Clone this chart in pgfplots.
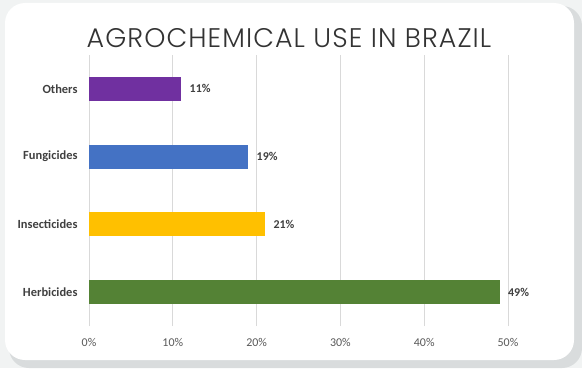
\documentclass[border=0pt]{standalone}
\usepackage{pgfplots}
\pgfplotsset{compat=1.18}
\usepackage{fontspec}
\setmainfont{Carlito}
\newfontfamily\titlefont[LetterSpace=4]{Poppins Light}
\definecolor{bgc}{HTML}{F1F3F3}
\definecolor{shadowc}{HTML}{D9DCDD}
\definecolor{gridc}{HTML}{D9D9D9}
\definecolor{labc}{HTML}{404040}
\definecolor{tickc}{HTML}{595959}
\definecolor{titc}{HTML}{333333}
\definecolor{cpurple}{HTML}{7030A0}
\definecolor{cblue}{HTML}{4472C4}
\definecolor{cyellow}{HTML}{FFC000}
\definecolor{cgreen}{HTML}{548235}
\begin{document}
\begin{tikzpicture}[x=1bp,y=1bp]
\fill[bgc] (0,0) rectangle (582,368);
\fill[shadowc, rounded corners=20bp] (9,0) rectangle (582,362);
\fill[white, rounded corners=20bp] (5,8) rectangle (574,365);
\node[font=\titlefont\fontsize{27}{27}\selectfont, text=titc] at (289,330) {AGROCHEMICAL USE IN BRAZIL};
\begin{axis}[
  at={(89bp,42bp)}, anchor=south west, scale only axis,
  width=419bp, height=271bp,
  xmin=0, xmax=50, ymin=-0.5, ymax=3.5,
  axis line style={draw=none},
  xbar, bar width=24bp, bar shift=0pt,
  xmajorgrids, grid style={color=gridc, line width=0.8bp},
  major tick length=0pt,
  /pgf/number format/assume math mode=true,
  xtick={0,10,20,30,40,50},
  xticklabel={\pgfmathprintnumber{\tick}\%},
  xticklabel style={font=\fontsize{12}{12}\selectfont, text=tickc, yshift=-9bp},
  ytick={0,1,2,3},
  yticklabels={Herbicides,Insecticides,Fungicides,Others},
  yticklabel style={font=\bfseries\fontsize{12.5}{12.5}\selectfont, text=labc, xshift=-8bp},
  nodes near coords={\pgfmathprintnumber{\pgfplotspointmeta}\%},
  nodes near coords style={font=\bfseries\fontsize{12}{12}\selectfont, text=labc, xshift=5bp},
]
\addplot[fill=cgreen, draw=none] coordinates {(49,0)};
\addplot[fill=cyellow, draw=none] coordinates {(21,1)};
\addplot[fill=cblue, draw=none] coordinates {(19,2)};
\addplot[fill=cpurple, draw=none] coordinates {(11,3)};
\end{axis}
\end{tikzpicture}
\end{document}
